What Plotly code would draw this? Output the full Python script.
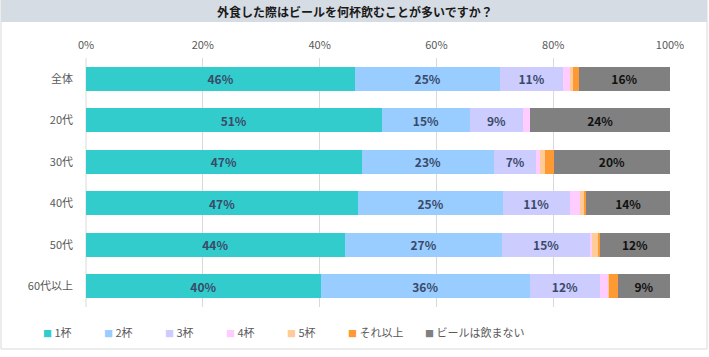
import plotly.graph_objects as go

categories = ["全体", "20代", "30代", "40代", "50代", "60代以上"]
series_names = ["1杯", "2杯", "3杯", "4杯", "5杯", "それ以上", "ビールは飲まない"]
v_1 = [46.1, 50.6, 47.2, 46.6, 44.3, 40.2]
v_2 = [24.8, 15.2, 22.7, 24.8, 27.0, 35.8]
v_3 = [10.8, 9.0, 7.2, 11.4, 15.0, 12.0]
v_4 = [1.2, 1.3, 0.7, 1.8, 0.4, 1.4]
v_5 = [0.5, 0.0, 0.8, 0.7, 0.9, 0.2]
v_more = [1.0, 0.0, 1.5, 0.4, 0.4, 1.5]
v_none = [15.6, 23.9, 19.9, 14.3, 12.0, 8.9]
tick_vals = [0, 20, 40, 60, 80, 100]
tick_text = ["0%", "20%", "40%", "60%", "80%", "100%"]
title_text = "外食した際はビールを何杯飲むことが多いですか？"

series_values = [v_1, v_2, v_3, v_4, v_5, v_more, v_none]
colors = ["#33CCCC", "#99CCFF", "#CCCCFF", "#FFCCFF", "#FFCC99", "#FF9933", "#808080"]
label_colors = ["#3A4A68"] * 6 + ["#111111"]

FONT = "Noto Sans CJK JP"
fig = go.Figure()
for name, vals, col, lc in zip(series_names, series_values, colors, label_colors):
    fig.add_trace(go.Bar(
        name=name, y=categories, x=vals, orientation="h",
        marker=dict(color=col, line=dict(width=0)),
        text=[f"{round(v)}%" if v >= 5 else "" for v in vals],
        textposition="inside", insidetextanchor="middle",
        textfont=dict(family=FONT, size=12, color=lc, weight="bold"),
        constraintext="none", hoverinfo="skip", showlegend=False,
    ))

L, R, T, B = 86, 39, 58, 50
W, H = 709, 357
pw, ph = W - L - R, H - T - B

def px_x(X):
    return (X - L) / pw

def px_y(Y):
    return (H - B - Y) / ph

# legend drawn as text entries (swatch + label), positioned in pixels
legend_x = [42, 103, 164, 225, 286, 347, 424]
legend_ann = []
for name, col, lx in zip(series_names, colors, legend_x):
    legend_ann.append(dict(
        text=f"<span style='color:{col};font-size:9px'>■</span> {name}",
        xref="paper", yref="paper", x=px_x(lx - 1), y=px_y(332),
        xanchor="left", yanchor="middle", showarrow=False,
        font=dict(family=FONT, size=11, color="#595959")))

fig.update_layout(
    width=W, height=H,
    margin=dict(l=L, r=R, t=T, b=B, autoexpand=False),
    barmode="stack", bargap=0.42,
    paper_bgcolor="white", plot_bgcolor="white",
    font=dict(family=FONT, size=11, color="#595959"),
    showlegend=False,
    xaxis=dict(side="top", range=[0, 100], tickvals=tick_vals, ticktext=tick_text,
               showgrid=True, gridcolor="#D9D9D9", gridwidth=1, zeroline=False,
               showline=False, ticks="", ticklabelstandoff=6, automargin=False,
               tickfont=dict(family=FONT, size=11, color="#595959")),
    yaxis=dict(autorange="reversed", showgrid=False, zeroline=False, showline=False,
               ticks="", ticklabelstandoff=12, automargin=False,
               tickfont=dict(family=FONT, size=11, color="#595959")),
    shapes=[
        dict(type="rect", xref="paper", yref="paper", x0=px_x(1), x1=px_x(707),
             y0=px_y(349), y1=px_y(0), line=dict(color="#D9D9D9", width=1),
             fillcolor="rgba(0,0,0,0)", layer="below"),
        dict(type="rect", xref="paper", yref="paper", x0=px_x(1), x1=px_x(707),
             y0=px_y(22), y1=px_y(0), line=dict(width=0), fillcolor="#D6DCE4",
             layer="below"),
        dict(type="line", xref="paper", yref="paper", x0=0, x1=0, y0=0, y1=1,
             line=dict(color="#D9D9D9", width=1), layer="below"),
    ],
    annotations=[
        dict(text=title_text, xref="paper", yref="paper", x=px_x(355), y=px_y(11),
             xanchor="center", yanchor="middle", showarrow=False,
             font=dict(family=FONT, size=12, color="#1A1A1A", weight="bold")),
    ] + legend_ann,
)

fig.write_html("out.html", config={"displayModeBar": False},
               post_script="document.body.style.margin='0';")
